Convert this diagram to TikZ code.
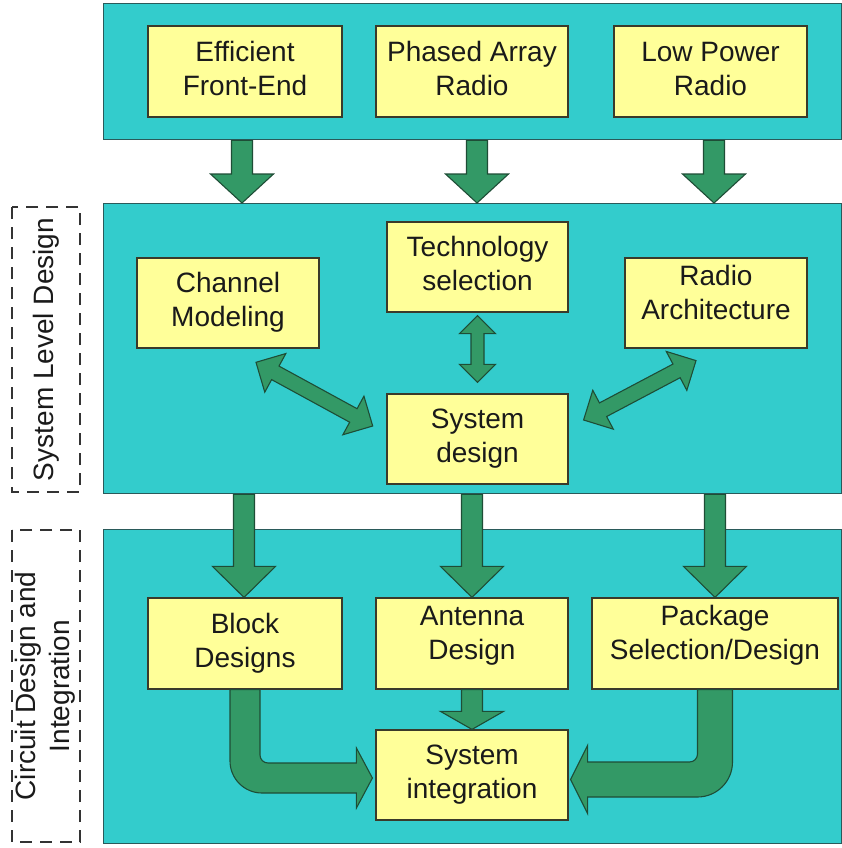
\documentclass[tikz,border=0pt]{standalone}
\usepackage{fontspec}
\setmainfont{Liberation Sans}
\usetikzlibrary{calc}
\definecolor{tealp}{HTML}{33CCCC}
\definecolor{yfill}{HTML}{FFFF99}
\definecolor{agreen}{HTML}{339966}
\definecolor{aedge}{HTML}{1E4D36}
\definecolor{pedge}{HTML}{2A5A5A}
\definecolor{bedge}{HTML}{3A3A2A}
\definecolor{txtc}{HTML}{1A1A1A}
\definecolor{dedge}{HTML}{333333}

\newcommand\twol[2]{\begin{tabular}{@{}c@{}}#1\\#2\end{tabular}}
\newcommand\twolup[2]{\begin{tabular}{@{}c@{}}#1\\#2\\[15pt]\end{tabular}}

% single-headed block arrow: from, to, half shaft, half head, head length
\newcommand\sarrow[5]{%
\draw[barr] let \p1=#1, \p2=#2, \n1={atan2(\y2-\y1,\x2-\x1)}, \n2={veclen(\x2-\x1,\y2-\y1)} in
 ($(\p1)+(\n1+90:#3)$) -- ($(\p1)+(\n1:\n2-#5)+(\n1+90:#3)$) -- ($(\p1)+(\n1:\n2-#5)+(\n1+90:#4)$)
 -- (\p2) -- ($(\p1)+(\n1:\n2-#5)+(\n1-90:#4)$) -- ($(\p1)+(\n1:\n2-#5)+(\n1-90:#3)$)
 -- ($(\p1)+(\n1-90:#3)$) -- cycle;}
% double-headed block arrow
\newcommand\darrow[5]{%
\draw[barr] let \p1=#1, \p2=#2, \n1={atan2(\y2-\y1,\x2-\x1)}, \n2={veclen(\x2-\x1,\y2-\y1)} in
 (\p1) -- ($(\p1)+(\n1:#5)+(\n1+90:#4)$) -- ($(\p1)+(\n1:#5)+(\n1+90:#3)$)
 -- ($(\p1)+(\n1:\n2-#5)+(\n1+90:#3)$) -- ($(\p1)+(\n1:\n2-#5)+(\n1+90:#4)$)
 -- (\p2) -- ($(\p1)+(\n1:\n2-#5)+(\n1-90:#4)$) -- ($(\p1)+(\n1:\n2-#5)+(\n1-90:#3)$)
 -- ($(\p1)+(\n1:#5)+(\n1-90:#3)$) -- ($(\p1)+(\n1:#5)+(\n1-90:#4)$) -- cycle;}

\begin{document}
\begin{tikzpicture}[x=1pt,y=1pt,
  panel/.style={draw=pedge, fill=tealp, line width=1.3pt, inner sep=0pt, anchor=north west, minimum width=738},
  ybox/.style={draw=bedge, fill=yfill, line width=1.2pt, inner sep=0pt, text=txtc,
    font=\fontsize{28}{34}\selectfont},
  dbox/.style={draw=dedge, line width=1.4pt, dash pattern=on 12pt off 8pt, inner sep=0pt,
    text=txtc, font=\fontsize{28}{34}\selectfont},
  barr/.style={fill=agreen, draw=aedge, line width=1.1pt, line join=miter}]
\useasboundingbox (0,0) rectangle (842,-848);
\fill[white] (0,0) rectangle (842,-848);

% panels
\node[panel, minimum height=136] (ptop) at (103,-3) {};
\node[panel, minimum height=290] (pmid) at (103,-203) {};
\node[panel, minimum height=314] (pbot) at (103,-529) {};

% side labels
\node[dbox, rotate=90, minimum width=285, minimum height=68] (sld) at (46,-349.5) {System Level Design};
\node[dbox, rotate=90, minimum width=312, minimum height=68] (cdi) at (46,-686) {\twol{Circuit Design and}{Integration}};

% top boxes
\node[ybox, minimum width=194, minimum height=91] (eff) at (245,-71.5) {\twol{Efficient}{Front-End}};
\node[ybox, minimum width=192, minimum height=91] (pha) at (472,-71.5) {\twol{Phased Array}{Radio}};
\node[ybox, minimum width=193, minimum height=91] (low) at (710.5,-71.5) {\twol{Low Power}{Radio}};

% middle boxes
\node[ybox, minimum width=182, minimum height=90] (chm) at (228,-303) {\twol{Channel}{Modeling}};
\node[ybox, minimum width=181, minimum height=90] (tec) at (477.5,-267) {\twol{Technology}{selection}};
\node[ybox, minimum width=182, minimum height=90] (rad) at (716,-303) {\twolup{Radio}{Architecture}};
\node[ybox, minimum width=181, minimum height=90] (sys) at (477.5,-439) {\twol{System}{design}};

% bottom boxes
\node[ybox, minimum width=194, minimum height=91] (blk) at (245,-643.5) {\twol{Block}{Designs}};
\node[ybox, minimum width=192, minimum height=91] (ant) at (472,-643.5) {\twolup{Antenna}{Design}};
\node[ybox, minimum width=246, minimum height=91] (pkg) at (715,-643.5) {\twolup{Package}{Selection/Design}};
\node[ybox, minimum width=192, minimum height=90] (sin) at (472,-775) {\twol{System}{integration}};

% top -> middle arrows
\sarrow{($(eff.south |- ptop.south)+(-3,0)$)}{($(eff.south |- pmid.north)+(-3,0)$)}{10.5}{31.5}{29}
\sarrow{($(pha.south |- ptop.south)+(5,0)$)}{($(pha.south |- pmid.north)+(5,0)$)}{10.5}{31.5}{29}
\sarrow{($(low.south |- ptop.south)+(3.5,0)$)}{($(low.south |- pmid.north)+(3.5,0)$)}{10.5}{31.5}{29}

% middle -> bottom arrows
\sarrow{($(blk.north |- pmid.south)+(-1,0)$)}{($(blk.north)+(-1,0)$)}{10.5}{31.5}{31}
\sarrow{(ant.north |- pmid.south)}{(ant.north)}{10.5}{31.5}{31}
\sarrow{(pkg.north |- pmid.south)}{(pkg.north)}{10.5}{31.5}{31}

% system level double arrows
\darrow{($(tec.south)+(0,-3)$)}{($(sys.north)+(0,11)$)}{6.5}{18}{18}
\darrow{($(chm.south)+(28,-13.7)$)}{($(sys.west)+(-13.7,13)$)}{7.7}{22}{22}
\darrow{($(sys.east)+(15,19)$)}{($(rad.south)+(-20,-12)$)}{7.7}{22}{22}

% antenna -> system integration
\sarrow{(ant.south)}{(sin.north)}{10.5}{31.5}{18}

% block designs -> system integration (bent)
\draw[barr] let \p1=(blk.south), \p2=(sin.west), \n1={\y2-3}, \n2={\x2-3} in
  (\x1-15,\y1) -- (\x1-15,\n1-15+32) arc[start angle=180, end angle=270, radius=32]
  -- (\n2-16,\n1-15) -- (\n2-16,\n1-30) -- (\n2,\n1) -- (\n2-16,\n1+30) -- (\n2-16,\n1+15)
  -- (\x1+15+8,\n1+15) arc[start angle=270, end angle=180, radius=8]
  -- (\x1+15,\y1) -- cycle;

% package -> system integration (bent)
\draw[barr] let \p1=(pkg.south), \p2=(sin.east), \n1={\y2-4.5}, \n2={\x2+2} in
  (\x1+17.5,\y1) -- (\x1+17.5,\n1-17.5+35) arc[start angle=0, end angle=-90, radius=35]
  -- (\n2+17,\n1-17.5) -- (\n2+17,\n1-34) -- (\n2,\n1) -- (\n2+17,\n1+34) -- (\n2+17,\n1+17.5)
  -- (\x1-17.5-8,\n1+17.5) arc[start angle=270, end angle=360, radius=8]
  -- (\x1-17.5,\y1) -- cycle;
\end{tikzpicture}
\end{document}
